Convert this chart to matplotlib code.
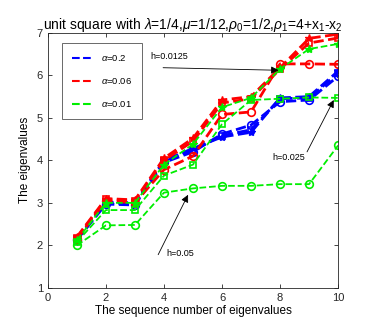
import matplotlib
matplotlib.use("Agg")
import matplotlib.pyplot as plt
import numpy as np

plt.rcParams['font.family'] = ['Liberation Sans', 'DejaVu Sans']
plt.rcParams['mathtext.fontset'] = 'custom'
plt.rcParams['mathtext.rm'] = 'Liberation Sans'
plt.rcParams['mathtext.it'] = 'Liberation Sans:italic'

n = [1, 2, 3, 4, 5, 6, 7, 8, 9, 10]

# alpha = 0.2 (blue)
blue_h05 = [2.13, 2.97, 2.95, 3.95, 4.20, 4.62, 4.83, 5.38, 5.42, 5.98]
blue_h025 = [2.14, 3.00, 2.98, 3.98, 4.25, 4.58, 4.72, 5.45, 5.47, 6.05]
blue_h0125 = [2.15, 3.02, 3.00, 4.00, 4.28, 4.55, 4.66, 5.47, 5.50, 6.10]
# alpha = 0.06 (red)
red_h05 = [2.15, 3.05, 3.00, 3.78, 4.10, 5.08, 5.14, 6.27, 6.27, 6.26]
red_h025 = [2.18, 3.08, 3.05, 4.00, 4.45, 5.35, 5.45, 6.15, 6.76, 6.88]
red_h0125 = [2.20, 3.10, 3.07, 4.05, 4.52, 5.42, 5.50, 6.18, 6.87, 6.97]
# alpha = 0.01 (green)
green_h05 = [2.00, 2.47, 2.48, 3.24, 3.34, 3.40, 3.40, 3.44, 3.44, 4.35]
green_h025 = [2.08, 2.83, 2.83, 3.64, 3.90, 4.85, 5.42, 5.45, 5.48, 5.47]
green_h0125 = [2.12, 3.00, 3.00, 3.90, 4.38, 5.25, 5.47, 6.15, 6.62, 6.74]

labels = [r'$\alpha$=0.2', r'$\alpha$=0.06', r'$\alpha$=0.01']
colors = ['#0000ff', '#ff0000', '#00ee00']

fig = plt.figure(figsize=(3.74, 3.32), dpi=100)
ax = fig.add_axes([0.128, 0.133, 0.776, 0.768])

groups = [
    (blue_h05, blue_h025, blue_h0125),
    (red_h05, red_h025, red_h0125),
    (green_h05, green_h025, green_h0125),
]
lws = [2.0, 2.0, 1.3]
handles = []
for (s05, s025, s0125), c, lab, lw in zip(groups, colors, labels, lws):
    ax.plot(n, s05, '--', color=c, lw=lw, marker='o', ms=5.5, mfc='none', mew=1.2)
    ax.plot(n, s025, '--', color=c, lw=lw, marker='s', ms=4.5, mfc='none', mew=1.2)
    ax.plot(n, s0125, '--', color=c, lw=lw, marker='*', ms=6, mew=1.0)
    h, = ax.plot([], [], '--', color=c, lw=1.5, label=lab)
    handles.append(h)

ax.set_xlim(0, 10)
ax.set_ylim(1, 7)
ax.set_xticks([0, 2, 4, 6, 8, 10])
ax.set_yticks([1, 2, 3, 4, 5, 6, 7])
ax.tick_params(direction='in', top=True, right=True, labelsize=8, length=3, width=0.6, colors='#262626')
for sp in ax.spines.values():
    sp.set_linewidth(0.6)
    sp.set_color('#262626')

ax.set_title(r'unit square with $\lambda$=1/4,$\mu$=1/12,$\rho_0$=1/2,$\rho_1$=4+x$_1$-x$_2$',
             fontsize=10, pad=3)
ax.set_xlabel('The sequence number of eigenvalues', fontsize=8.5, labelpad=2)
ax.set_ylabel('The eigenvalues', fontsize=8.5, labelpad=4)

leg = ax.legend(handles=handles, loc='upper left', bbox_to_anchor=(0.048, 0.96),
                fontsize=6.8, frameon=True, fancybox=False, edgecolor='#262626',
                labelspacing=1.35, handlelength=2.2, borderpad=1.1, handletextpad=0.8,
                borderaxespad=0)
leg.get_frame().set_linewidth(0.6)

ap = dict(arrowstyle='-|>', color='black', lw=0.6, mutation_scale=11, shrinkA=0, shrinkB=0)
ax.text(3.52, 6.44, 'h=0.0125', fontsize=6.5, ha='left', va='center')
ax.annotate('', xy=(7.95, 6.12), xytext=(3.97, 6.18), arrowprops=ap)
ax.text(8.31, 4.06, 'h=0.025', fontsize=6.5, ha='center', va='center')
ax.annotate('', xy=(9.85, 5.42), xytext=(8.93, 4.2), arrowprops=ap)
ax.text(4.57, 1.8, 'h=0.05', fontsize=6.5, ha='center', va='center')
ax.annotate('', xy=(4.83, 3.19), xytext=(3.8, 1.78), arrowprops=ap)

fig.savefig('out.png', dpi=100)
